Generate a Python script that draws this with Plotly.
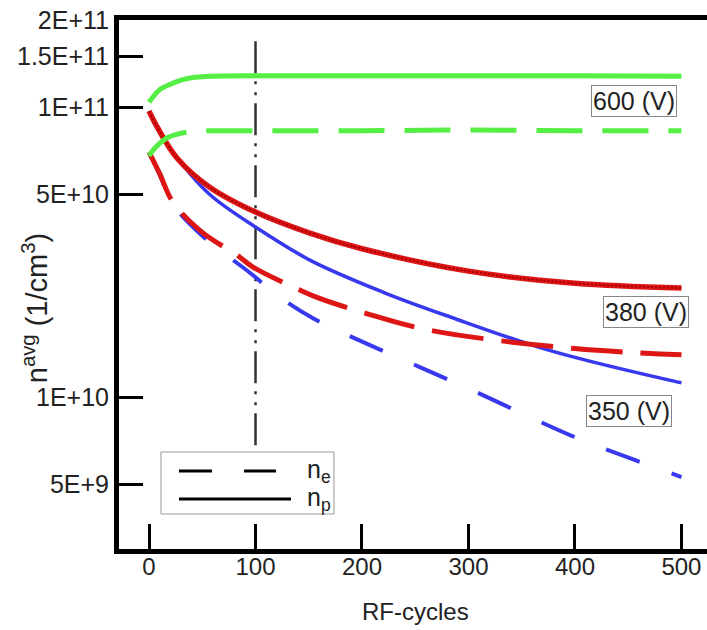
import plotly.graph_objects as go

# ---------------- data ----------------
x_ticks = [0, 100, 200, 300, 400, 500]
y_tickvals = [5e9, 1e10, 5e10, 1e11, 1.5e11, 2e11]
y_ticktext = ["5E+9", "1E+10", "5E+10", "1E+11", "1.5E+11", "2E+11"]

# 600 V
x_600_np = [0, 5, 10, 20, 30, 40, 60, 100, 200, 300, 400, 500]
y_600_np = [1.04e11, 1.10e11, 1.15e11, 1.20e11, 1.24e11, 1.265e11, 1.28e11, 1.285e11, 1.285e11, 1.285e11, 1.285e11, 1.28e11]
x_600_ne = [0, 5, 10, 17, 25, 40, 60, 100, 200, 300, 400, 500]
y_600_ne = [6.8e10, 7.2e10, 7.5e10, 7.85e10, 8.05e10, 8.25e10, 8.3e10, 8.3e10, 8.3e10, 8.35e10, 8.3e10, 8.3e10]

# 380 V
x_380_np = [0, 8, 26, 57, 100, 151, 200, 300, 400, 500]
y_380_np = [9.7e10, 8.5e10, 6.7e10, 5.3e10, 4.35e10, 3.68e10, 3.25e10, 2.72e10, 2.47e10, 2.38e10]
x_380_ne = [0, 10, 22.5, 50, 82.6, 97.6, 141.8, 157.7, 202.8, 264, 400, 500]
y_380_ne = [7.0e10, 5.9e10, 4.7e10, 3.7e10, 3.09e10, 2.81e10, 2.34e10, 2.21e10, 1.95e10, 1.70e10, 1.47e10, 1.40e10]

# 350 V
x_350_np = [0, 8, 29, 57, 100, 151, 220, 283, 376, 500]
y_350_np = [9.7e10, 8.4e10, 6.5e10, 5.0e10, 3.86e10, 2.97e10, 2.3e10, 1.89e10, 1.45e10, 1.12e10]
x_350_ne = [0, 10, 22, 50, 95, 123, 154, 186, 300, 397, 456, 500]
y_350_ne = [7.0e10, 5.85e10, 4.65e10, 3.6e10, 2.68e10, 2.21e10, 1.87e10, 1.64e10, 1.07e10, 7.35e9, 6.07e9, 5.3e9]

# reference line at 100 RF-cycles
x_ref = [100, 100]
y_ref = [6.82e9, 1.74e11]

labels = ["600 (V)", "380 (V)", "350 (V)"]
label_x = [455, 467, 451]
label_logy = [11.02, 10.293, 9.952]

# ---------------- figure ----------------
GREEN = "#55ee44"
RED = "#dd1515"
BLUE = "#3838ee"
FONT = "Liberation Sans, Arial, sans-serif"
TXT = "#222222"

fig = go.Figure()

def add(x, y, color, width, dash="solid", shape="spline"):
    fig.add_trace(go.Scatter(x=x, y=y, mode="lines", showlegend=False,
                             line=dict(color=color, width=width, dash=dash, shape=shape, smoothing=1.0),
                             hoverinfo="skip"))

add(x_ref, y_ref, "#333333", 2.5, "32px,8px,3px,8px,3px,8px", "linear")
add(x_350_ne, y_350_ne, BLUE, 4, "36px,34px")
add(x_350_np, y_350_np, BLUE, 3.5)
add(x_380_ne, y_380_ne, RED, 5, "52px,18px")
add(x_380_np, y_380_np, RED, 5.5)
add(x_380_np, y_380_np, "#a80000", 2, "2px,2px")
add(x_600_ne, y_600_ne, GREEN, 5, "46px,20px")
add(x_600_np, y_600_np, GREEN, 5)

ann = []
for t, xx, yy in zip(labels, label_x, label_logy):
    ann.append(dict(x=xx, y=yy, xref="x", yref="y", text=t, showarrow=False,
                    xanchor="center", yanchor="middle",
                    font=dict(family=FONT, size=25, color=TXT),
                    bordercolor="#888", borderwidth=1, borderpad=1, bgcolor="white"))

# axis titles
ann.append(dict(x=-0.143, y=0.455, xref="paper", yref="paper", textangle=-90,
                xanchor="center", yanchor="middle",
                text="n<sup>avg</sup> (1/cm<sup>3</sup>)", showarrow=False,
                font=dict(family=FONT, size=29, color=TXT)))
ann.append(dict(x=0.505, y=-0.119, xref="paper", yref="paper",
                xanchor="center", yanchor="middle",
                text="RF-cycles", showarrow=False,
                font=dict(family=FONT, size=24, color=TXT)))

# manual legend
ann.append(dict(x=0.316, y=0.1474, xref="paper", yref="paper", xanchor="left", yanchor="middle",
                text="n<sub>e</sub>", showarrow=False, font=dict(family=FONT, size=25, color=TXT)))
ann.append(dict(x=0.316, y=0.0945, xref="paper", yref="paper", xanchor="left", yanchor="middle",
                text="n<sub>p</sub>", showarrow=False, font=dict(family=FONT, size=25, color=TXT)))

shapes = [
    dict(type="rect", xref="paper", yref="paper", x0=0.0714, x1=0.3656, y0=0.0662, y1=0.1834,
         line=dict(color="#999", width=1), fillcolor="white", layer="above"),
    dict(type="line", xref="paper", yref="paper", x0=0.102, x1=0.267, y0=0.1474, y1=0.1474,
         line=dict(color="black", width=3, dash="33px,32px"), layer="above"),
    dict(type="line", xref="paper", yref="paper", x0=0.102, x1=0.2925, y0=0.0945, y1=0.0945,
         line=dict(color="black", width=3), layer="above"),
]

fig.update_layout(
    width=707, height=630,
    margin=dict(l=119, r=0, t=20, b=81),
    paper_bgcolor="white", plot_bgcolor="white",
    annotations=ann, shapes=shapes,
    font=dict(family=FONT, color=TXT),
)
fig.update_xaxes(range=[-28.2, 524], tickvals=x_ticks, ticks="inside", ticklen=25, tickwidth=3,
                 tickcolor="black", showline=True, linecolor="black", linewidth=5, mirror=True,
                 showgrid=False, zeroline=False, ticklabelstandoff=-8,
                 tickfont=dict(family=FONT, size=24, color=TXT))
fig.update_yaxes(type="log", range=[9.476, 11.301], tickvals=y_tickvals, ticktext=y_ticktext,
                 ticks="inside", ticklen=24, tickwidth=3, tickcolor="black", showline=True,
                 linecolor="black", linewidth=5, showgrid=False, zeroline=False,
                 tickfont=dict(family=FONT, size=25, color=TXT))

fig.write_html("out.html")
